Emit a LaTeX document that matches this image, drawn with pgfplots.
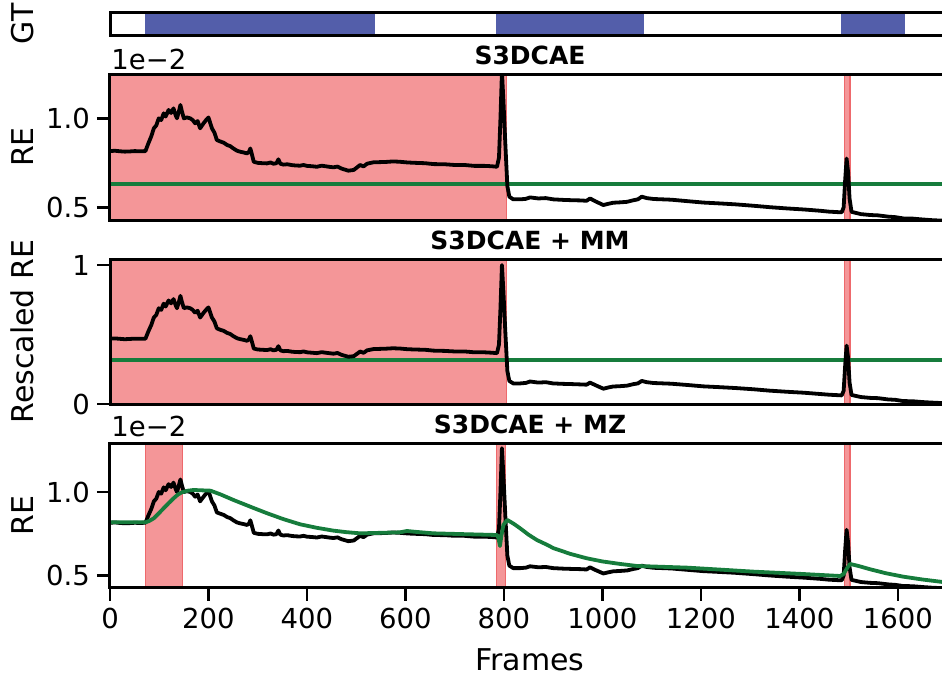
\documentclass[border=0pt]{standalone}
\usepackage{fontspec}
\setmainfont{DejaVu Sans}
\usepackage{pgfplots}
\pgfplotsset{compat=1.18}
\usepackage{pgfplotstable}

\definecolor{shade}{RGB}{244,150,152}
\definecolor{shadeedge}{RGB}{238,105,108}
\definecolor{gtblue}{RGB}{83,94,170}
\definecolor{thrgreen}{RGB}{22,124,60}

% RE in units of 1e-2 (re) and min-max rescaled RE (rs)
\pgfplotstableread{
f re rs
0 0.816 0.470
10 0.818 0.472
20 0.815 0.469
30 0.813 0.466
40 0.814 0.468
50 0.816 0.470
60 0.815 0.469
72 0.816 0.470
78 0.860 0.523
84 0.900 0.570
89 0.944 0.622
94 0.960 0.641
99 1.000 0.689
104 0.990 0.677
109 1.028 0.722
113 1.010 0.701
119 1.047 0.745
124 1.030 0.724
129 1.056 0.755
133 1.020 0.713
136 1.000 0.689
140 1.040 0.736
143 1.075 0.778
146 1.040 0.736
150 1.000 0.689
156 1.005 0.695
163 1.000 0.689
168 0.990 0.677
173 0.972 0.656
178 0.985 0.671
183 0.944 0.622
187 0.960 0.641
190 0.972 0.656
195 0.990 0.677
200 1.005 0.695
204 0.970 0.653
207 0.944 0.622
212 0.920 0.594
217 0.878 0.544
224 0.870 0.534
231 0.863 0.526
238 0.850 0.511
244 0.844 0.504
251 0.830 0.487
258 0.818 0.473
265 0.812 0.466
272 0.808 0.461
278 0.803 0.455
282 0.810 0.463
285 0.831 0.488
288 0.800 0.451
292 0.756 0.399
300 0.750 0.392
310 0.748 0.390
319 0.747 0.388
326 0.752 0.394
332 0.745 0.386
338 0.748 0.390
342 0.770 0.416
346 0.745 0.386
352 0.740 0.380
360 0.742 0.382
370 0.737 0.376
378 0.735 0.374
386 0.734 0.373
393 0.738 0.378
400 0.733 0.372
410 0.731 0.369
420 0.728 0.366
430 0.734 0.373
440 0.730 0.368
447 0.727 0.365
454 0.725 0.362
462 0.729 0.367
470 0.718 0.354
484 0.706 0.340
495 0.710 0.344
502 0.725 0.362
508 0.738 0.378
515 0.730 0.368
522 0.745 0.386
535 0.753 0.395
560 0.755 0.398
575 0.758 0.401
589 0.756 0.399
605 0.752 0.394
620 0.750 0.392
640 0.748 0.390
657 0.743 0.384
680 0.742 0.382
700 0.738 0.378
720 0.738 0.378
740 0.733 0.372
760 0.733 0.372
775 0.731 0.369
786 0.728 0.366
790 0.780 0.428
793 1.000 0.689
796 1.262 1.000
799 1.100 0.808
803 0.850 0.511
807 0.620 0.238
811 0.560 0.166
819 0.545 0.148
833 0.545 0.148
845 0.548 0.152
853 0.556 0.162
870 0.550 0.154
885 0.552 0.157
900 0.545 0.148
920 0.542 0.145
940 0.540 0.143
955 0.539 0.141
968 0.537 0.139
975 0.550 0.154
985 0.535 0.137
1002 0.513 0.110
1012 0.520 0.119
1022 0.526 0.126
1035 0.528 0.128
1050 0.531 0.132
1063 0.540 0.143
1072 0.545 0.148
1080 0.560 0.166
1090 0.552 0.157
1104 0.547 0.151
1140 0.543 0.146
1172 0.535 0.137
1205 0.527 0.127
1239 0.522 0.121
1270 0.517 0.115
1307 0.509 0.106
1340 0.501 0.096
1375 0.494 0.088
1410 0.488 0.081
1442 0.481 0.072
1460 0.476 0.067
1486 0.472 0.062
1490 0.500 0.095
1493 0.650 0.273
1496 0.774 0.420
1499 0.700 0.333
1502 0.550 0.154
1506 0.475 0.065
1525 0.462 0.050
1544 0.457 0.044
1560 0.455 0.042
1580 0.448 0.033
1595 0.445 0.030
1611 0.438 0.021
1630 0.437 0.020
1650 0.432 0.014
1670 0.428 0.010
1700 0.424 0.005
}\redata

% S3DCAE + MZ threshold (units of 1e-2)
\pgfplotstableread{
f thr
0 0.819
72 0.819
80 0.827
89 0.843
99 0.872
109 0.903
119 0.933
129 0.962
138 0.985
146 0.998
158 1.008
170 1.012
186 1.010
204 1.008
225 0.985
251 0.952
285 0.912
319 0.873
352 0.838
386 0.807
420 0.786
454 0.769
480 0.760
508 0.753
550 0.756
589 0.759
603 0.767
620 0.762
657 0.753
720 0.748
786 0.743
789 0.725
792 0.677
795 0.740
799 0.803
803 0.820
807 0.833
820 0.810
833 0.783
850 0.745
867 0.713
885 0.688
901 0.664
935 0.630
968 0.604
1000 0.585
1036 0.570
1070 0.558
1172 0.548
1240 0.536
1307 0.524
1400 0.511
1483 0.498
1490 0.510
1497 0.545
1503 0.570
1520 0.558
1544 0.538
1575 0.515
1611 0.494
1650 0.477
1700 0.459
}\mzdata

\pgfplotsset{
  panel/.style={
    scale only axis, width=420pt, xmin=0, xmax=1706,
    axis on top,
    axis line style={line width=1.5pt},
    tick style={line width=1.3pt, black}, major tick length=6.5pt, tick align=outside,
    xtick pos=bottom, ytick pos=left,
    tick label style={font=\fontsize{13.75pt}{16pt}\selectfont},
    /pgf/number format/assume math mode=true,
    label style={font=\fontsize{15pt}{18pt}\selectfont},
    ylabel style={at={(rel axis cs:-0.10417,0.5)}, anchor=center},
    every axis title shift=0pt,
    title style={font=\fontsize{12.5pt}{15pt}\selectfont\bfseries,
                 at={(rel axis cs:0.5,1)}, anchor=base, yshift=4.85pt},
  },
  blk/.style={black, line width=1.9pt, line join=round, no markers},
  grn/.style={thrgreen, line width=1.9pt, line join=round, no markers},
  anom/.style={fill=shade, draw=shadeedge, line width=0.6pt},
}

\begin{document}
\begin{tikzpicture}
\useasboundingbox (0pt,0pt) rectangle (471pt,-337.5pt);

% GT
\begin{axis}[panel, at={(55pt,-17.85pt)}, anchor=south west, height=11.85pt,
  ymin=0, ymax=1, xtick=\empty, ytick=\empty, ylabel={GT}]
  \addplot[fill=gtblue, draw=gtblue, line width=0.4pt] coordinates {(72,0) (537,0) (537,1) (72,1)} -- cycle;
  \addplot[fill=gtblue, draw=gtblue, line width=0.4pt] coordinates {(784,0) (1083,0) (1083,1) (784,1)} -- cycle;
  \addplot[fill=gtblue, draw=gtblue, line width=0.4pt] coordinates {(1485,0) (1613,0) (1613,1) (1485,1)} -- cycle;
\end{axis}

% S3DCAE
\begin{axis}[panel, at={(55pt,-110pt)}, anchor=south west, height=73pt,
  ymin=0.429, ymax=1.249, xtick=\empty, ytick={0.5,1.0}, yticklabels={0.5,1.0},
  ylabel={RE}, title={S3DCAE}]
  \addplot[anom] coordinates {(0,0.3) (806,0.3) (806,1.5) (0,1.5)} -- cycle;
  \addplot[anom] coordinates {(1492,0.3) (1503,0.3) (1503,1.5) (1492,1.5)} -- cycle;
  \addplot[grn] coordinates {(0,0.629) (1706,0.629)};
  \addplot[blk] table[x=f, y=re] {\redata};
\end{axis}

% S3DCAE + MM
\begin{axis}[panel, at={(55pt,-202pt)}, anchor=south west, height=72.35pt,
  ymin=0, ymax=1.041, xtick=\empty, ytick={0,1}, yticklabels={0,1},
  ylabel={Rescaled RE}, title={S3DCAE + MM}]
  \addplot[anom] coordinates {(0,-0.2) (806,-0.2) (806,1.2) (0,1.2)} -- cycle;
  \addplot[anom] coordinates {(1492,-0.2) (1503,-0.2) (1503,1.2) (1492,1.2)} -- cycle;
  \addplot[grn] coordinates {(0,0.317) (1706,0.317)};
  \addplot[blk] table[x=f, y=rs] {\redata};
\end{axis}

% S3DCAE + MZ
\begin{axis}[panel, at={(55pt,-293.85pt)}, anchor=south west, height=72.2pt,
  ymin=0.428, ymax=1.291, xtick={0,200,400,600,800,1000,1200,1400,1600},
  xticklabels={0,200,400,600,800,1000,1200,1400,1600},
  ytick={0.5,1.0}, yticklabels={0.5,1.0},
  ylabel={RE}, title={S3DCAE + MZ}, xlabel={Frames},
  xlabel style={at={(rel axis cs:0.5,0)}, anchor=base, yshift=-41.15pt}]
  \addplot[anom] coordinates {(72,0.3) (148,0.3) (148,1.5) (72,1.5)} -- cycle;
  \addplot[anom] coordinates {(785,0.3) (804,0.3) (804,1.5) (785,1.5)} -- cycle;
  \addplot[anom] coordinates {(1491,0.3) (1503,0.3) (1503,1.5) (1491,1.5)} -- cycle;
  \addplot[blk] table[x=f, y=re] {\redata};
  \addplot[grn] table[x=f, y=thr] {\mzdata};
\end{axis}

% offset texts
\node[anchor=base west, inner sep=0pt, font=\fontsize{13.75pt}{16pt}\selectfont] at (55.5pt,-34.65pt) {1e−2};
\node[anchor=base west, inner sep=0pt, font=\fontsize{13.75pt}{16pt}\selectfont] at (55.5pt,-218.35pt) {1e−2};
\end{tikzpicture}
\end{document}
